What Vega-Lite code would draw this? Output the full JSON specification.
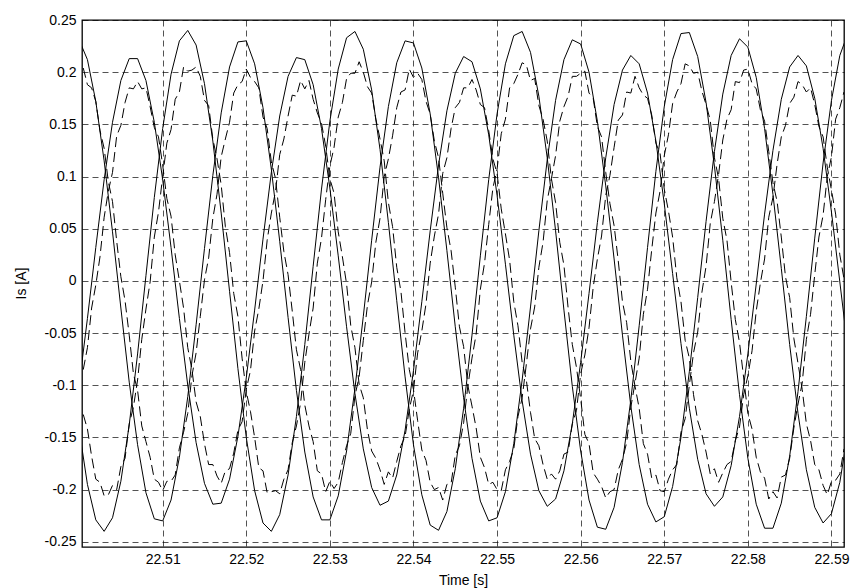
{
"$schema": "https://vega.github.io/schema/vega-lite/v6.json",
"width": 762,
"height": 527,
"autosize": {"type": "none"},
"padding": {"left": 82, "top": 20, "right": 6, "bottom": 41},
"background": "white",
"config": {
 "view": {"stroke": "#000", "strokeWidth": 1.3},
 "axis": {"domain": false, "ticks": false, "grid": true, "gridColor": "#000", "gridDash": [6, 4], "gridWidth": 0.8, "gridOpacity": 0.85,
  "labelFont": "Liberation Sans", "labelFontSize": 14, "labelColor": "#000",
  "titleFont": "Liberation Sans", "titleFontSize": 14, "titleFontWeight": "normal", "titleColor": "#000"}
},
"datasets": {
"solid": [
{"t":22.5,"a":-0.100,"b":-0.142,"c":0.231},
{"t":22.501,"a":-0.036,"b":-0.195,"c":0.212},
{"t":22.502,"a":0.032,"b":-0.229,"c":0.172},
{"t":22.503,"a":0.097,"b":-0.240,"c":0.115},
{"t":22.504,"a":0.152,"b":-0.227,"c":0.047},
{"t":22.505,"a":0.192,"b":-0.192,"c":-0.026},
{"t":22.506,"a":0.213,"b":-0.138,"c":-0.097},
{"t":22.507,"a":0.213,"b":-0.070,"c":-0.157},
{"t":22.508,"a":0.192,"b":0.005,"c":-0.203},
{"t":22.509,"a":0.152,"b":0.080,"c":-0.228},
{"t":22.51,"a":0.097,"b":0.146,"c":-0.230},
{"t":22.511,"a":0.032,"b":0.198,"c":-0.210},
{"t":22.512,"a":-0.036,"b":0.230,"c":-0.169},
{"t":22.513,"a":-0.100,"b":0.240,"c":-0.111},
{"t":22.514,"a":-0.155,"b":0.226,"c":-0.042},
{"t":22.515,"a":-0.194,"b":0.189,"c":0.031},
{"t":22.516,"a":-0.214,"b":0.134,"c":0.101},
{"t":22.517,"a":-0.213,"b":0.065,"c":0.161},
{"t":22.518,"a":-0.190,"b":-0.010,"c":0.205},
{"t":22.519,"a":-0.149,"b":-0.084,"c":0.229},
{"t":22.52,"a":-0.093,"b":-0.150,"c":0.230},
{"t":22.521,"a":-0.028,"b":-0.201,"c":0.208},
{"t":22.522,"a":0.040,"b":-0.232,"c":0.166},
{"t":22.523,"a":0.104,"b":-0.240,"c":0.107},
{"t":22.524,"a":0.158,"b":-0.224,"c":0.038},
{"t":22.525,"a":0.196,"b":-0.186,"c":-0.035},
{"t":22.526,"a":0.214,"b":-0.130,"c":-0.105},
{"t":22.527,"a":0.212,"b":-0.061,"c":-0.164},
{"t":22.528,"a":0.188,"b":0.014,"c":-0.207},
{"t":22.529,"a":0.146,"b":0.088,"c":-0.229},
{"t":22.53,"a":0.089,"b":0.153,"c":-0.229},
{"t":22.531,"a":0.024,"b":0.203,"c":-0.206},
{"t":22.532,"a":-0.044,"b":0.233,"c":-0.163},
{"t":22.533,"a":-0.108,"b":0.239,"c":-0.103},
{"t":22.534,"a":-0.161,"b":0.222,"c":-0.034},
{"t":22.535,"a":-0.198,"b":0.183,"c":0.039},
{"t":22.536,"a":-0.215,"b":0.126,"c":0.109},
{"t":22.537,"a":-0.211,"b":0.056,"c":0.167},
{"t":22.538,"a":-0.186,"b":-0.019,"c":0.209},
{"t":22.539,"a":-0.143,"b":-0.092,"c":0.230},
{"t":22.54,"a":-0.086,"b":-0.157,"c":0.228},
{"t":22.541,"a":-0.020,"b":-0.205,"c":0.204},
{"t":22.542,"a":0.048,"b":-0.234,"c":0.160},
{"t":22.543,"a":0.111,"b":-0.239,"c":0.099},
{"t":22.544,"a":0.163,"b":-0.221,"c":0.029},
{"t":22.545,"a":0.199,"b":-0.180,"c":-0.044},
{"t":22.546,"a":0.215,"b":-0.122,"c":-0.112},
{"t":22.547,"a":0.210,"b":-0.052,"c":-0.170},
{"t":22.548,"a":0.184,"b":0.024,"c":-0.211},
{"t":22.549,"a":0.140,"b":0.097,"c":-0.230},
{"t":22.55,"a":0.082,"b":0.160,"c":-0.227},
{"t":22.551,"a":0.016,"b":0.208,"c":-0.202},
{"t":22.552,"a":-0.052,"b":0.235,"c":-0.156},
{"t":22.553,"a":-0.115,"b":0.239,"c":-0.095},
{"t":22.554,"a":-0.166,"b":0.219,"c":-0.025},
{"t":22.555,"a":-0.201,"b":0.177,"c":0.048},
{"t":22.556,"a":-0.216,"b":0.118,"c":0.116},
{"t":22.557,"a":-0.209,"b":0.048,"c":0.173},
{"t":22.558,"a":-0.182,"b":-0.028,"c":0.212},
{"t":22.559,"a":-0.137,"b":-0.101,"c":0.231},
{"t":22.56,"a":-0.078,"b":-0.163,"c":0.227},
{"t":22.561,"a":-0.012,"b":-0.210,"c":0.200},
{"t":22.562,"a":0.056,"b":-0.236,"c":0.153},
{"t":22.563,"a":0.118,"b":-0.238,"c":0.091},
{"t":22.564,"a":0.169,"b":-0.217,"c":0.021},
{"t":22.565,"a":0.202,"b":-0.174,"c":-0.052},
{"t":22.566,"a":0.216,"b":-0.114,"c":-0.120},
{"t":22.567,"a":0.208,"b":-0.043,"c":-0.176},
{"t":22.568,"a":0.180,"b":0.032,"c":-0.214},
{"t":22.569,"a":0.134,"b":0.105,"c":-0.231},
{"t":22.57,"a":0.074,"b":0.167,"c":-0.226},
{"t":22.571,"a":0.007,"b":0.212,"c":-0.197},
{"t":22.572,"a":-0.060,"b":0.237,"c":-0.150},
{"t":22.573,"a":-0.122,"b":0.238,"c":-0.087},
{"t":22.574,"a":-0.171,"b":0.215,"c":-0.016},
{"t":22.575,"a":-0.204,"b":0.171,"c":0.057},
{"t":22.576,"a":-0.216,"b":0.110,"c":0.124},
{"t":22.577,"a":-0.207,"b":0.039,"c":0.179},
{"t":22.578,"a":-0.177,"b":-0.037,"c":0.216},
{"t":22.579,"a":-0.130,"b":-0.109,"c":0.232},
{"t":22.58,"a":-0.070,"b":-0.170,"c":0.224},
{"t":22.581,"a":-0.003,"b":-0.214,"c":0.195},
{"t":22.582,"a":0.064,"b":-0.237,"c":0.146},
{"t":22.583,"a":0.125,"b":-0.237,"c":0.083},
{"t":22.584,"a":0.174,"b":-0.213,"c":0.012},
{"t":22.585,"a":0.205,"b":-0.168,"c":-0.061},
{"t":22.586,"a":0.216,"b":-0.106,"c":-0.127},
{"t":22.587,"a":0.206,"b":-0.034,"c":-0.181},
{"t":22.588,"a":0.175,"b":0.041,"c":-0.217},
{"t":22.589,"a":0.127,"b":0.113,"c":-0.232},
{"t":22.59,"a":0.066,"b":0.173,"c":-0.223},
{"t":22.591,"a":-0.001,"b":0.216,"c":-0.193},
{"t":22.592,"a":-0.068,"b":0.238,"c":-0.143}
],
"noisy": [
{"t":22.5005,"a":-0.085,"b":-0.128,"c":0.204},
{"t":22.501,"a":-0.064,"b":-0.142,"c":0.188},
{"t":22.5015,"a":-0.026,"b":-0.168,"c":0.185},
{"t":22.502,"a":-0.004,"b":-0.190,"c":0.172},
{"t":22.5025,"a":0.023,"b":-0.193,"c":0.144},
{"t":22.503,"a":0.061,"b":-0.206,"c":0.127},
{"t":22.5035,"a":0.086,"b":-0.205,"c":0.095},
{"t":22.504,"a":0.104,"b":-0.196,"c":0.076},
{"t":22.5045,"a":0.139,"b":-0.200,"c":0.038},
{"t":22.505,"a":0.149,"b":-0.178,"c":0.004},
{"t":22.5055,"a":0.171,"b":-0.170,"c":-0.019},
{"t":22.506,"a":0.185,"b":-0.137,"c":-0.052},
{"t":22.5065,"a":0.184,"b":-0.121,"c":-0.089},
{"t":22.507,"a":0.191,"b":-0.095,"c":-0.105},
{"t":22.5075,"a":0.184,"b":-0.056,"c":-0.139},
{"t":22.508,"a":0.185,"b":-0.027,"c":-0.154},
{"t":22.5085,"a":0.167,"b":-0.001,"c":-0.169},
{"t":22.509,"a":0.147,"b":0.042,"c":-0.190},
{"t":22.5095,"a":0.138,"b":0.066,"c":-0.193},
{"t":22.51,"a":0.111,"b":0.100,"c":-0.201},
{"t":22.5105,"a":0.079,"b":0.132,"c":-0.192},
{"t":22.511,"a":0.062,"b":0.145,"c":-0.192},
{"t":22.5115,"a":0.025,"b":0.174,"c":-0.186},
{"t":22.512,"a":0.000,"b":0.181,"c":-0.160},
{"t":22.5125,"a":-0.026,"b":0.205,"c":-0.145},
{"t":22.513,"a":-0.064,"b":0.201,"c":-0.127},
{"t":22.5135,"a":-0.085,"b":0.202,"c":-0.091},
{"t":22.514,"a":-0.116,"b":0.205,"c":-0.069},
{"t":22.5145,"a":-0.130,"b":0.196,"c":-0.034},
{"t":22.515,"a":-0.156,"b":0.173,"c":0.001},
{"t":22.5155,"a":-0.176,"b":0.168,"c":0.022},
{"t":22.516,"a":-0.176,"b":0.136,"c":0.060},
{"t":22.5165,"a":-0.187,"b":0.117,"c":0.083},
{"t":22.517,"a":-0.194,"b":0.092,"c":0.119},
{"t":22.5175,"a":-0.182,"b":0.052,"c":0.136},
{"t":22.518,"a":-0.180,"b":0.027,"c":0.152},
{"t":22.5185,"a":-0.165,"b":-0.012,"c":0.180},
{"t":22.519,"a":-0.143,"b":-0.034,"c":0.188},
{"t":22.5195,"a":-0.135,"b":-0.074,"c":0.191},
{"t":22.52,"a":-0.104,"b":-0.106,"c":0.203},
{"t":22.5205,"a":-0.086,"b":-0.125,"c":0.195},
{"t":22.521,"a":-0.048,"b":-0.150,"c":0.191},
{"t":22.5215,"a":-0.027,"b":-0.179,"c":0.185},
{"t":22.522,"a":0.000,"b":-0.182,"c":0.157},
{"t":22.5225,"a":0.039,"b":-0.203,"c":0.146},
{"t":22.523,"a":0.065,"b":-0.202,"c":0.114},
{"t":22.5235,"a":0.086,"b":-0.201,"c":0.098},
{"t":22.524,"a":0.121,"b":-0.204,"c":0.061},
{"t":22.5245,"a":0.136,"b":-0.190,"c":0.028},
{"t":22.525,"a":0.158,"b":-0.181,"c":0.006},
{"t":22.5255,"a":0.178,"b":-0.155,"c":-0.029},
{"t":22.526,"a":0.177,"b":-0.139,"c":-0.066},
{"t":22.5265,"a":0.192,"b":-0.117,"c":-0.085},
{"t":22.527,"a":0.184,"b":-0.078,"c":-0.119},
{"t":22.5275,"a":0.192,"b":-0.051,"c":-0.139},
{"t":22.528,"a":0.174,"b":-0.026,"c":-0.154},
{"t":22.5285,"a":0.161,"b":0.017,"c":-0.182},
{"t":22.529,"a":0.151,"b":0.041,"c":-0.185},
{"t":22.5295,"a":0.129,"b":0.078,"c":-0.202},
{"t":22.53,"a":0.098,"b":0.110,"c":-0.192},
{"t":22.5305,"a":0.084,"b":0.128,"c":-0.199},
{"t":22.531,"a":0.047,"b":0.157,"c":-0.193},
{"t":22.5315,"a":0.023,"b":0.171,"c":-0.174},
{"t":22.532,"a":-0.003,"b":0.194,"c":-0.158},
{"t":22.5325,"a":-0.043,"b":0.199,"c":-0.146},
{"t":22.533,"a":-0.064,"b":0.199,"c":-0.110},
{"t":22.5335,"a":-0.099,"b":0.210,"c":-0.092},
{"t":22.534,"a":-0.112,"b":0.200,"c":-0.057},
{"t":22.5345,"a":-0.143,"b":0.186,"c":-0.023},
{"t":22.535,"a":-0.163,"b":0.180,"c":-0.001},
{"t":22.5355,"a":-0.170,"b":0.155,"c":0.037},
{"t":22.536,"a":-0.181,"b":0.136,"c":0.060},
{"t":22.5365,"a":-0.195,"b":0.115,"c":0.100},
{"t":22.537,"a":-0.183,"b":0.075,"c":0.117},
{"t":22.5375,"a":-0.189,"b":0.052,"c":0.139},
{"t":22.538,"a":-0.173,"b":0.013,"c":0.166},
{"t":22.5385,"a":-0.158,"b":-0.010,"c":0.181},
{"t":22.539,"a":-0.149,"b":-0.050,"c":0.183},
{"t":22.5395,"a":-0.123,"b":-0.085,"c":0.203},
{"t":22.54,"a":-0.105,"b":-0.104,"c":0.195},
{"t":22.5405,"a":-0.069,"b":-0.134,"c":0.199},
{"t":22.541,"a":-0.048,"b":-0.162,"c":0.193},
{"t":22.5415,"a":-0.022,"b":-0.172,"c":0.172},
{"t":22.542,"a":0.017,"b":-0.193,"c":0.160},
{"t":22.5425,"a":0.043,"b":-0.200,"c":0.134},
{"t":22.543,"a":0.064,"b":-0.198,"c":0.118},
{"t":22.5435,"a":0.103,"b":-0.210,"c":0.084},
{"t":22.544,"a":0.118,"b":-0.195,"c":0.051},
{"t":22.5445,"a":0.146,"b":-0.194,"c":0.029},
{"t":22.545,"a":0.166,"b":-0.167,"c":-0.006},
{"t":22.5455,"a":0.171,"b":-0.158,"c":-0.044},
{"t":22.546,"a":0.185,"b":-0.136,"c":-0.063},
{"t":22.5465,"a":0.185,"b":-0.101,"c":-0.100},
{"t":22.547,"a":0.193,"b":-0.074,"c":-0.120},
{"t":22.5475,"a":0.183,"b":-0.051,"c":-0.141},
{"t":22.548,"a":0.169,"b":-0.008,"c":-0.169},
{"t":22.5485,"a":0.166,"b":0.017,"c":-0.179},
{"t":22.549,"a":0.144,"b":0.054,"c":-0.195},
{"t":22.5495,"a":0.117,"b":0.089,"c":-0.193},
{"t":22.55,"a":0.103,"b":0.107,"c":-0.200},
{"t":22.5505,"a":0.069,"b":0.141,"c":-0.201},
{"t":22.551,"a":0.045,"b":0.155,"c":-0.181},
{"t":22.5515,"a":0.020,"b":0.185,"c":-0.173},
{"t":22.552,"a":-0.020,"b":0.189,"c":-0.161},
{"t":22.5525,"a":-0.043,"b":0.198,"c":-0.130},
{"t":22.553,"a":-0.078,"b":0.209,"c":-0.112},
{"t":22.5535,"a":-0.095,"b":0.207,"c":-0.080},
{"t":22.554,"a":-0.126,"b":0.192,"c":-0.046},
{"t":22.5545,"a":-0.151,"b":0.194,"c":-0.025},
{"t":22.555,"a":-0.158,"b":0.168,"c":0.013},
{"t":22.5555,"a":-0.176,"b":0.155,"c":0.037},
{"t":22.556,"a":-0.190,"b":0.134,"c":0.077},
{"t":22.5565,"a":-0.185,"b":0.098,"c":0.098},
{"t":22.557,"a":-0.190,"b":0.075,"c":0.120},
{"t":22.5575,"a":-0.182,"b":0.037,"c":0.153},
{"t":22.558,"a":-0.166,"b":0.015,"c":0.167},
{"t":22.5585,"a":-0.164,"b":-0.026,"c":0.177},
{"t":22.559,"a":-0.137,"b":-0.061,"c":0.196},
{"t":22.5595,"a":-0.124,"b":-0.083,"c":0.196},
{"t":22.56,"a":-0.089,"b":-0.113,"c":0.199},
{"t":22.5605,"a":-0.071,"b":-0.147,"c":0.201},
{"t":22.561,"a":-0.045,"b":-0.156,"c":0.180},
{"t":22.5615,"a":-0.006,"b":-0.184,"c":0.175},
{"t":22.562,"a":0.021,"b":-0.190,"c":0.148},
{"t":22.5625,"a":0.043,"b":-0.197,"c":0.138},
{"t":22.563,"a":0.082,"b":-0.208,"c":0.104},
{"t":22.5635,"a":0.101,"b":-0.202,"c":0.074},
{"t":22.564,"a":0.128,"b":-0.200,"c":0.053},
{"t":22.5645,"a":0.154,"b":-0.181,"c":0.019},
{"t":22.565,"a":0.159,"b":-0.171,"c":-0.020},
{"t":22.5655,"a":0.181,"b":-0.155,"c":-0.040},
{"t":22.566,"a":0.180,"b":-0.121,"c":-0.077},
{"t":22.5665,"a":0.196,"b":-0.098,"c":-0.101},
{"t":22.567,"a":0.185,"b":-0.074,"c":-0.122},
{"t":22.5675,"a":0.178,"b":-0.032,"c":-0.156},
{"t":22.568,"a":0.175,"b":-0.008,"c":-0.166},
{"t":22.5685,"a":0.159,"b":0.030,"c":-0.189},
{"t":22.569,"a":0.132,"b":0.065,"c":-0.186},
{"t":22.5695,"a":0.122,"b":0.086,"c":-0.201},
{"t":22.57,"a":0.088,"b":0.120,"c":-0.202},
{"t":22.5705,"a":0.067,"b":0.140,"c":-0.190},
{"t":22.571,"a":0.042,"b":0.170,"c":-0.181},
{"t":22.5715,"a":0.003,"b":0.181,"c":-0.176},
{"t":22.572,"a":-0.020,"b":0.189,"c":-0.145},
{"t":22.5725,"a":-0.057,"b":0.208,"c":-0.132},
{"t":22.573,"a":-0.074,"b":0.206,"c":-0.100},
{"t":22.5735,"a":-0.109,"b":0.199,"c":-0.069},
{"t":22.574,"a":-0.134,"b":0.200,"c":-0.049},
{"t":22.5745,"a":-0.147,"b":0.182,"c":-0.011},
{"t":22.575,"a":-0.164,"b":0.169,"c":0.014},
{"t":22.5755,"a":-0.185,"b":0.154,"c":0.055},
{"t":22.576,"a":-0.180,"b":0.118,"c":0.076},
{"t":22.5765,"a":-0.193,"b":0.098,"c":0.102},
{"t":22.577,"a":-0.184,"b":0.060,"c":0.135},
{"t":22.5775,"a":-0.176,"b":0.039,"c":0.155},
{"t":22.578,"a":-0.173,"b":-0.001,"c":0.164},
{"t":22.5785,"a":-0.153,"b":-0.037,"c":0.191},
{"t":22.579,"a":-0.140,"b":-0.059,"c":0.190},
{"t":22.5795,"a":-0.109,"b":-0.093,"c":0.202},
{"t":22.58,"a":-0.091,"b":-0.127,"c":0.203},
{"t":22.5805,"a":-0.067,"b":-0.142,"c":0.189},
{"t":22.581,"a":-0.029,"b":-0.169,"c":0.184},
{"t":22.5815,"a":-0.002,"b":-0.183,"c":0.164},
{"t":22.582,"a":0.021,"b":-0.189,"c":0.153},
{"t":22.5825,"a":0.061,"b":-0.209,"c":0.124},
{"t":22.583,"a":0.080,"b":-0.202,"c":0.094},
{"t":22.5835,"a":0.112,"b":-0.208,"c":0.076},
{"t":22.584,"a":0.138,"b":-0.188,"c":0.042},
{"t":22.5845,"a":0.149,"b":-0.186,"c":0.004},
{"t":22.585,"a":0.170,"b":-0.170,"c":-0.016},
{"t":22.5855,"a":0.176,"b":-0.141,"c":-0.055},
{"t":22.586,"a":0.191,"b":-0.118,"c":-0.079},
{"t":22.5865,"a":0.188,"b":-0.098,"c":-0.104},
{"t":22.587,"a":0.181,"b":-0.056,"c":-0.137},
{"t":22.5875,"a":0.185,"b":-0.032,"c":-0.153},
{"t":22.588,"a":0.169,"b":0.006,"c":-0.176},
{"t":22.5885,"a":0.148,"b":0.042,"c":-0.181},
{"t":22.589,"a":0.138,"b":0.063,"c":-0.196},
{"t":22.5895,"a":0.109,"b":0.100,"c":-0.205},
{"t":22.59,"a":0.087,"b":0.119,"c":-0.192},
{"t":22.5905,"a":0.064,"b":0.155,"c":-0.191},
{"t":22.591,"a":0.025,"b":0.166,"c":-0.185},
{"t":22.5915,"a":0.002,"b":0.181,"c":-0.161}
]
},
"encoding": {
 "x": {"field": "t", "type": "quantitative",
  "scale": {"domain": [22.50035, 22.5915], "nice": false, "zero": false},
  "axis": {"values": [22.51, 22.52, 22.53, 22.54, 22.55, 22.56, 22.57, 22.58, 22.59], "format": ".2f", "labelPadding": 5,
   "title": "Time [s]", "titleX": 381, "titleY": 37, "titleAnchor": "middle", "titleAlign": "center", "titleBaseline": "alphabetic"}},
 "y": {"field": "v", "type": "quantitative",
  "scale": {"domain": [-0.255, 0.25], "nice": false, "zero": false},
  "axis": {"values": [-0.25, -0.2, -0.15, -0.1, -0.05, 0, 0.05, 0.1, 0.15, 0.2, 0.25], "labelExpr": "'' + datum.value", "labelPadding": 6,
   "title": "Is [A]", "titleX": -57, "titleY": 263, "titleAngle": -90, "titleAlign": "center", "titleBaseline": "alphabetic"}},
 "detail": {"field": "phase", "type": "nominal"}
},
"layer": [
 {"data": {"name": "noisy"},
  "transform": [{"fold": ["a", "b", "c"], "as": ["phase", "v"]}],
  "mark": {"type": "line", "color": "#000", "strokeWidth": 1, "strokeDash": [10, 5], "clip": true}},
 {"data": {"name": "solid"},
  "transform": [{"fold": ["a", "b", "c"], "as": ["phase", "v"]}],
  "mark": {"type": "line", "color": "#000", "strokeWidth": 1, "clip": true}}
]
}
